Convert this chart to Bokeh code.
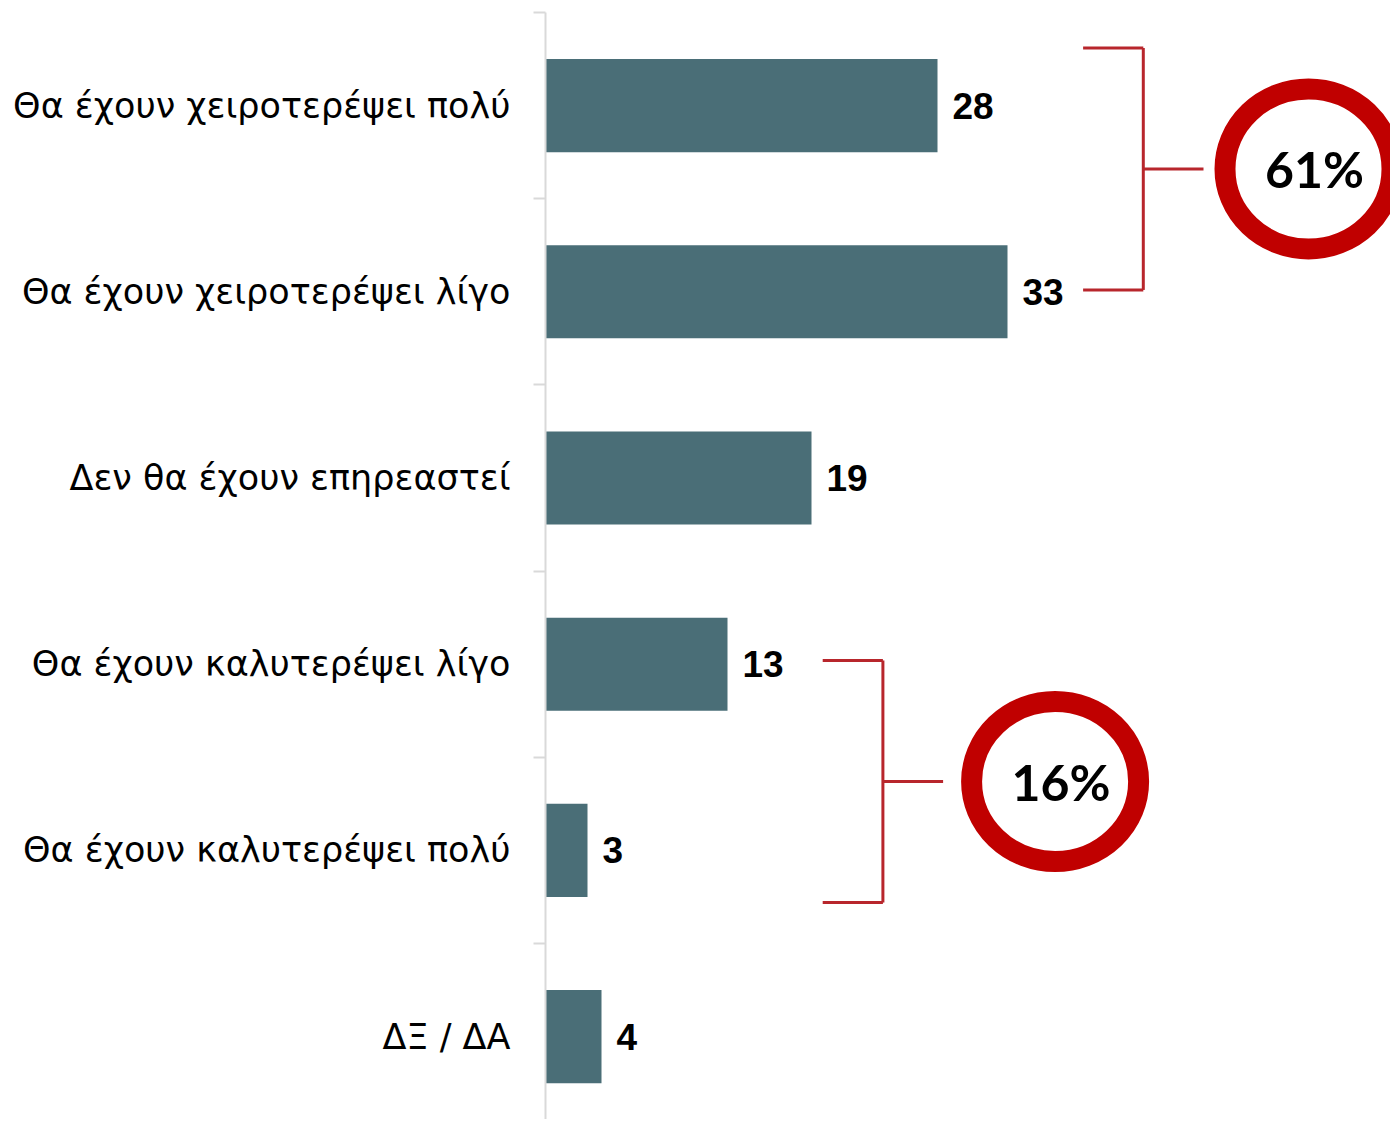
from bokeh.plotting import figure
from bokeh.models import Range1d, FixedTicker
from bokeh.core.properties import value
from bokeh.embed import file_html
from bokeh.resources import INLINE

# ---- data ----
categories = [
    "Θα έχουν χειροτερέψει πολύ",
    "Θα έχουν χειροτερέψει λίγο",
    "Δεν θα έχουν επηρεαστεί",
    "Θα έχουν καλυτερέψει λίγο",
    "Θα έχουν καλυτερέψει πολύ",
    "ΔΞ / ΔΑ",
]
values = [28, 33, 19, 13, 3, 4]
group_labels = ["61%", "16%"]

# ---- annotation layout (data units) ----
bracket_x_start = [38.4, 19.8]
bracket_x_spine = [42.7, 24.1]
bracket_x_arm = [47.0, 28.4]
circle_x = [54.5, 36.4]
bracket_y_top = [-0.31, 2.98]
bracket_y_bottom = [0.99, 4.28]
bracket_y_mid = [(a + b) / 2 for a, b in zip(bracket_y_top, bracket_y_bottom)]

ypos = list(range(len(categories)))

FRAME_W = 845
FRAME_H = 1107
PX_PER_UNIT = 14.0
BAND_PX = 186.2

p = figure(width=1390, height=1119, output_backend="svg", toolbar_location=None,
           x_range=Range1d(0, FRAME_W / PX_PER_UNIT),
           y_range=Range1d(-0.5 + FRAME_H / BAND_PX, -0.5),
           min_border_left=545, min_border_right=0, min_border_top=12, min_border_bottom=0)
p.outline_line_color = None
p.xgrid.visible = False
p.ygrid.visible = False
p.xaxis.visible = False
p.background_fill_color = "white"
p.border_fill_color = "white"

bar_color = "#4A6E77"
p.hbar(y=ypos, right=values, left=0, height=0.5, fill_color=bar_color, line_color=None)

p.text(x=values, y=ypos, text=[str(v) for v in values], x_offset=15,
       text_baseline="middle", text_align="left", text_font=value("Liberation Sans"),
       text_font_style="bold", text_font_size="37px", text_color="#000000")

yax = p.yaxis[0]
yax.ticker = FixedTicker(ticks=ypos, minor_ticks=[i - 0.5 for i in range(len(categories) + 1)])
yax.major_label_overrides = {i: c for i, c in enumerate(categories)}
yax.major_tick_line_color = None
yax.major_tick_out = 0
yax.major_tick_in = 0
yax.minor_tick_out = 12
yax.minor_tick_in = 0
yax.minor_tick_line_color = "#D9D9D9"
yax.minor_tick_line_width = 2
yax.axis_line_color = "#D9D9D9"
yax.axis_line_width = 2
yax.major_label_standoff = 23
yax.major_label_text_font = "DejaVu Sans"
yax.major_label_text_font_size = "35px"
yax.major_label_text_color = "#000000"

red = "#B8262C"
# brackets
p.segment(x0=bracket_x_start, y0=bracket_y_top, x1=bracket_x_spine, y1=bracket_y_top, line_color=red, line_width=3)
p.segment(x0=bracket_x_start, y0=bracket_y_bottom, x1=bracket_x_spine, y1=bracket_y_bottom, line_color=red, line_width=3)
p.segment(x0=bracket_x_spine, y0=bracket_y_top, x1=bracket_x_spine, y1=bracket_y_bottom, line_color=red, line_width=3)
p.segment(x0=bracket_x_spine, y0=bracket_y_mid, x1=bracket_x_arm, y1=bracket_y_mid, line_color=red, line_width=3)

p.ellipse(x=circle_x, y=bracket_y_mid, width=167, height=160, width_units="screen", height_units="screen",
          fill_color="white", line_color="#C00000", line_width=21)
p.text(x=circle_x, y=bracket_y_mid, text=group_labels, text_align="center", text_baseline="middle",
       x_offset=6, text_font=value("Lato"), text_font_style="bold", text_font_size="50px", text_color="#000000")

open("out.html", "w").write(file_html(p, INLINE))
